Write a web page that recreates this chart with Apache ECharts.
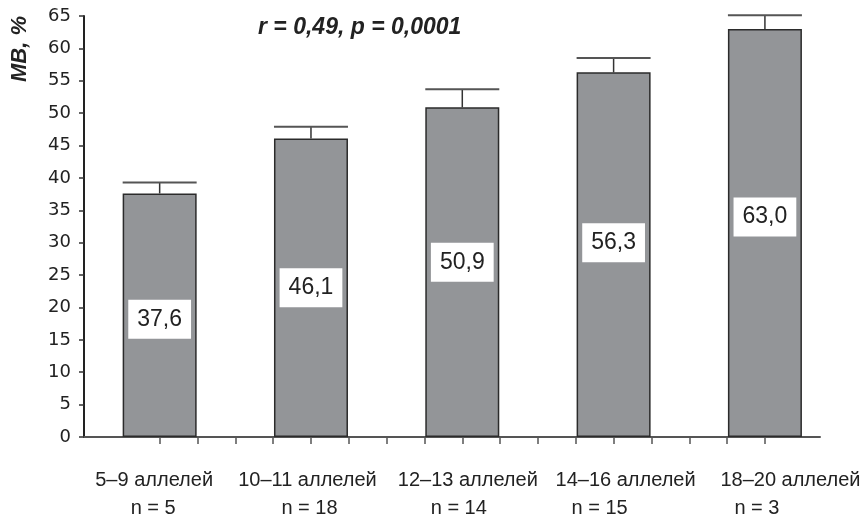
<!DOCTYPE html>
<html>
<head>
<meta charset="utf-8">
<script src="https://cdn.jsdelivr.net/npm/echarts@6/dist/echarts.min.js"></script>
<style>
html,body{margin:0;padding:0;background:#fff;}
#chart{width:865px;height:516px;}
</style>
</head>
<body>
<div id="chart"></div>
<script>
// ---- data ----
const categories = ['5–9 аллелей', '10–11 аллелей', '12–13 аллелей', '14–16 аллелей', '18–20 аллелей'];
const groupSizes = ['n = 5', 'n = 18', 'n = 14', 'n = 15', 'n = 3'];
const meanValues = [37.6, 46.1, 50.9, 56.3, 63.0];
const errorUpper = [39.3, 47.9, 53.7, 58.5, 65.1];
const yTickLabels = ['0','5','10','15','20','25','30','35','40','45','50','55','60','65'];
const titleText = 'r = 0,49, p = 0,0001';
const yAxisTitle = 'МВ, %';

// ---- layout tweaks (pixels) ----
const gridLeft = 84, gridRight = 45;
const line1Shift = [-5.5, -3.5, 5.5, 12, 25.5];
const line2Shift = [-6.5, -1.5, -3.5, -14, -8];
const valueLabelDy = [4, 0, -10, -12, -16];

function hasFont(name) {
  const c = document.createElement('canvas').getContext('2d');
  const s = 'аллелей 10–11 n = 5';
  c.font = '40px "' + name + '", monospace';
  const a = c.measureText(s).width;
  c.font = '40px monospace';
  const b = c.measureText(s).width;
  return Math.abs(a - b) > 0.5;
}
const narrow = hasFont('Liberation Sans Narrow');
const xFont = narrow ? '"Liberation Sans Narrow"' : '"Liberation Sans", Arial, sans-serif';
const xSize = narrow ? 24 : 20;

const xMin = -0.5, xMax = 4.364;
const unitPerPx = (xMax - xMin) / (865 - gridLeft - gridRight);
const idx = categories.map((_, i) => i);
const line1Pos = idx.map(i => i + line1Shift[i] * unitPerPx);
const line2Pos = idx.map(i => i + line2Shift[i] * unitPerPx);

const tickVals = [];
for (let k = 0; k <= 16; k++) tickVals.push(k * 0.25);

const chart = echarts.init(document.getElementById('chart'), null, {renderer: 'canvas'});

chart.setOption({
  animation: false,
  backgroundColor: '#fff',
  title: {
    text: titleText, left: 253, top: 11,
    textStyle: {fontFamily: '"Liberation Sans", Arial, sans-serif', fontSize: 23, fontWeight: 'bold', fontStyle: 'italic', color: '#222', lineHeight: 24}
  },
  graphic: [{
    type: 'text', x: 20, y: 49, rotation: Math.PI / 2,
    style: {text: yAxisTitle, fontFamily: '"Liberation Sans", Arial, sans-serif', fontSize: 22, fontWeight: 'bold', fontStyle: 'italic', fill: '#222', align: 'center', verticalAlign: 'middle'}
  }],
  grid: {left: gridLeft, right: gridRight, top: 16, bottom: 79, containLabel: false, outerBoundsMode: 'none'},
  xAxis: [{
    type: 'value', min: xMin, max: xMax, position: 'bottom',
    splitLine: {show: false},
    axisLine: {show: true, onZero: false, lineStyle: {color: '#555', width: 2}},
    axisTick: {show: true, length: 7, customValues: tickVals, lineStyle: {color: '#555', width: 1.5}},
    axisLabel: {
      show: true, margin: 29, customValues: line1Pos, hideOverlap: false,
      showMinLabel: true, showMaxLabel: true,
      fontFamily: xFont, fontSize: xSize, color: '#222', lineHeight: 28,
      formatter: v => categories[Math.round(v)]
    }
  }, {
    type: 'value', min: xMin, max: xMax, position: 'bottom',
    splitLine: {show: false}, axisLine: {show: false}, axisTick: {show: false},
    axisLabel: {
      show: true, margin: 57, customValues: line2Pos, hideOverlap: false,
      showMinLabel: true, showMaxLabel: true,
      fontFamily: xFont, fontSize: xSize, color: '#222', lineHeight: 28,
      formatter: v => groupSizes[Math.round(v)]
    }
  }],
  yAxis: {
    type: 'value', min: 0, max: 65, interval: 5,
    splitLine: {show: false},
    axisLine: {show: true, onZero: false, lineStyle: {color: '#222', width: 2}},
    axisTick: {show: true, length: 5, lineStyle: {color: '#333', width: 1.5}},
    axisLabel: {
      margin: 13, color: '#222', fontSize: 18, fontFamily: '"DejaVu Sans", sans-serif',
      formatter: v => yTickLabels[Math.round(v / 5)]
    }
  },
  series: [{
    type: 'bar', xAxisIndex: 0, barWidth: 74,
    data: meanValues.map((v, i) => ({
      value: [i, v],
      label: {offset: [0, valueLabelDy[i]]}
    })),
    itemStyle: {color: '#939598', borderColor: '#2b2b2b', borderWidth: 1.5},
    label: {
      show: true, position: 'inside',
      formatter: p => p.value[1].toFixed(1).replace('.', ','),
      backgroundColor: '#fff', color: '#222',
      fontFamily: '"Liberation Sans", Arial, sans-serif', fontSize: 23, lineHeight: 25,
      padding: [7, 9, 7, 9]
    }
  }, {
    type: 'custom', xAxisIndex: 0,
    data: meanValues.map((v, i) => [i, v, errorUpper[i]]),
    encode: {x: 0, y: [1, 2]},
    renderItem: (params, api) => {
      const x = api.value(0);
      const pBase = api.coord([x, api.value(1)]);
      const pTop = api.coord([x, api.value(2)]);
      return {
        type: 'group',
        children: [
          {type: 'line', shape: {x1: pBase[0], y1: pBase[1], x2: pTop[0], y2: pTop[1]}, style: {stroke: '#333', lineWidth: 1.5}},
          {type: 'line', shape: {x1: pTop[0] - 37, y1: pTop[1], x2: pTop[0] + 37, y2: pTop[1]}, style: {stroke: '#555', lineWidth: 2}}
        ]
      };
    }
  }]
});
</script>
</body>
</html>
